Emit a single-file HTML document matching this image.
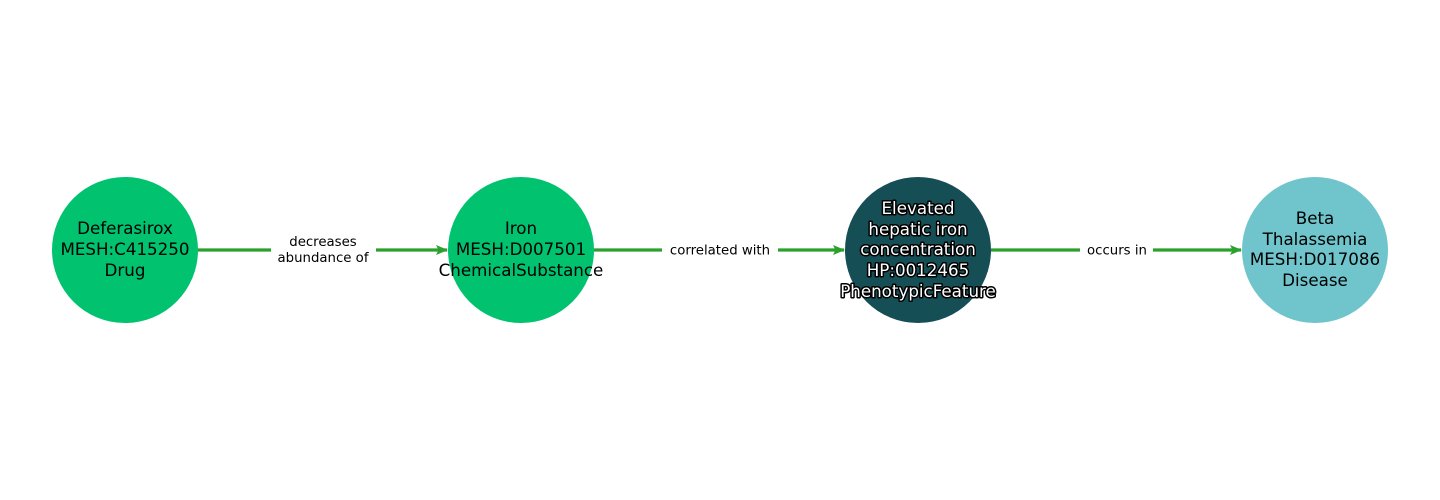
<!DOCTYPE html>
<html><head><meta charset="utf-8"><style>html,body{margin:0;padding:0;background:#fff}svg{display:block}</style></head>
<body>
<svg width="1440" height="500" viewBox="0 0 1440 500" xmlns="http://www.w3.org/2000/svg" font-family="DejaVu Sans, Liberation Sans, sans-serif">
<defs><marker id="a" markerWidth="12" markerHeight="10" refX="11" refY="5" orient="auto" markerUnits="userSpaceOnUse"><path d="M0,0 L12,5 L0,10 L2.5,5 Z" fill="#2ca02c"/></marker></defs>
<g stroke="#2ca02c" stroke-width="3.2" fill="none">
<line x1="198" y1="250" x2="447" y2="250" marker-end="url(#a)"/>
<line x1="594" y1="250" x2="844" y2="250" marker-end="url(#a)"/>
<line x1="991" y1="250" x2="1241" y2="250" marker-end="url(#a)"/>
</g>
<rect x="271" y="230" width="105" height="40" fill="#fff"/>
<rect x="662" y="240" width="116" height="20" fill="#fff"/>
<rect x="1080" y="240" width="73" height="20" fill="#fff"/>
<g font-size="13.3" text-anchor="middle" fill="#000">
<text x="323" y="246">decreases</text>
<text x="323" y="262">abundance of</text>
<text x="720" y="254.5">correlated with</text>
<text x="1117" y="254.5">occurs in</text>
</g>
<circle cx="125" cy="250" r="73" fill="#00c26f"/>
<circle cx="521" cy="250" r="73" fill="#00c26f"/>
<circle cx="918" cy="250" r="73" fill="#164e56"/>
<circle cx="1315" cy="250" r="73" fill="#6fc5cb"/>
<g font-size="16.7" text-anchor="middle" fill="#000">
<text x="125" y="234">Deferasirox</text>
<text x="125" y="255">MESH:C415250</text>
<text x="125" y="276">Drug</text>
<text x="521" y="234">Iron</text>
<text x="521" y="255">MESH:D007501</text>
<text x="521" y="276">ChemicalSubstance</text>
<text x="1315" y="224">Beta</text>
<text x="1315" y="245">Thalassemia</text>
<text x="1315" y="265">MESH:D017086</text>
<text x="1315" y="286">Disease</text>
</g>
<g font-size="16.7" text-anchor="middle" fill="#fff" stroke="#000" stroke-width="3" paint-order="stroke" stroke-linejoin="round">
<text x="918" y="214">Elevated</text>
<text x="918" y="235">hepatic iron</text>
<text x="918" y="255">concentration</text>
<text x="918" y="276">HP:0012465</text>
<text x="918" y="297">PhenotypicFeature</text>
</g>
</svg>
</body></html>
